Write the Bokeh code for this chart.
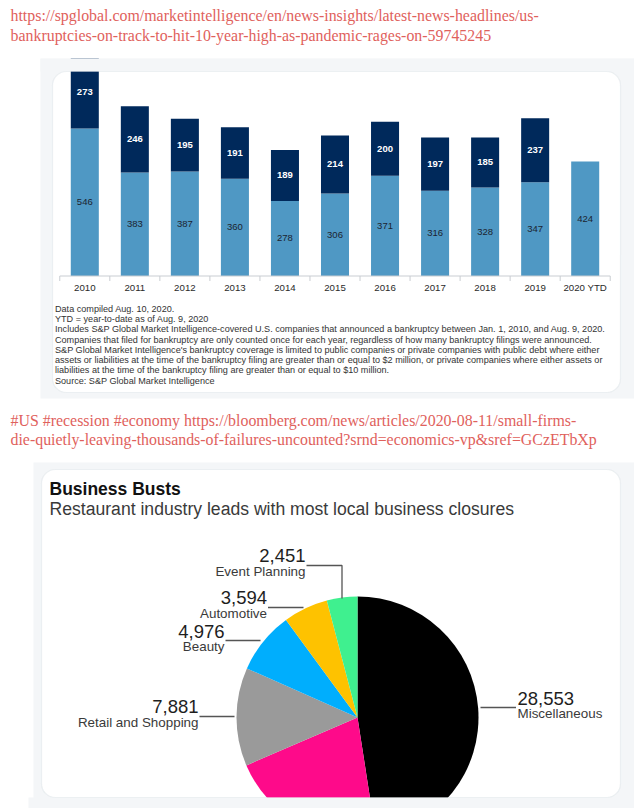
from bokeh.plotting import figure
from bokeh.models import ColumnDataSource, Range1d, BoxAnnotation
from bokeh.core.properties import value
from bokeh.embed import file_html
from bokeh.resources import INLINE
import numpy as np

# ---------------- data ----------------
years = ["2010", "2011", "2012", "2013", "2014", "2015", "2016", "2017", "2018", "2019", "2020 YTD"]
jan1_aug9 = [546, 383, 387, 360, 278, 306, 371, 316, 328, 347, 424]
aug10_dec31 = [273, 246, 195, 191, 189, 214, 200, 197, 185, 237, None]

notes = [
    "Data compiled Aug. 10, 2020.",
    "YTD = year-to-date as of Aug. 9, 2020",
    "Includes S&P Global Market Intelligence-covered U.S. companies that announced a bankruptcy between Jan. 1, 2010, and Aug. 9, 2020.",
    "Companies that filed for bankruptcy are only counted once for each year, regardless of how many bankruptcy filings were announced.",
    "S&P Global Market Intelligence's bankruptcy coverage is limited to public companies or private companies with public debt where either",
    "assets or liabilities at the time of the bankruptcy filing are greater than or equal to $2 million, or private companies where either assets or",
    "liabilities at the time of the bankruptcy filing are greater than or equal to $10 million.",
    "Source: S&P Global Market Intelligence",
]

link1 = ["https://spglobal.com/marketintelligence/en/news-insights/latest-news-headlines/us-",
         "bankruptcies-on-track-to-hit-10-year-high-as-pandemic-rages-on-59745245"]
link2 = ["#US #recession #economy https://bloomberg.com/news/articles/2020-08-11/small-firms-",
         "die-quietly-leaving-thousands-of-failures-uncounted?srnd=economics-vp&sref=GCzETbXp"]

pie_title = "Business Busts"
pie_subtitle = "Restaurant industry leads with most local business closures"
categories = ["Miscellaneous", "Restaurants", "Retail and Shopping", "Beauty", "Automotive", "Event Planning"]
closures = [28553, 12600, 7881, 4976, 3594, 2451]

# ---------------- styles / layout ----------------
W, H = 634, 808
OX, OY = 0, 0
LINK_COLOR = "#df615c"
GRAY_BG = "#f4f6f8"
CARD_LINE = "#dfe4e9"
LIGHT = "#4f98c4"
NAVY = "#00295b"
PIE_COLORS = ["#000000", "#fe0a8a", "#9a9a9a", "#00aefd", "#fec200", "#3ff08f"]
SANS = value("Liberation Sans")
SERIF = value("Liberation Serif")

BAR_X0, BAR_STEP = 84.3, 50.04     # page x of first category centre, px per category
BASE_Y, PPU = 275.5, 0.27          # page y of zero line, px per bankruptcy

p = figure(width=W, height=H, x_range=Range1d(OX, OX + W), y_range=Range1d(-(OY + H), -OY),
           x_axis_type=None, y_axis_type=None, toolbar_location=None, output_backend="svg",
           min_border=0, outline_line_color=None, background_fill_color="white",
           border_fill_color="white")

bx0 = -(BAR_X0 - OX) / BAR_STEP
by0 = -((OY + H) - BASE_Y) / PPU
p.extra_x_ranges = {"bx": Range1d(bx0, bx0 + W / BAR_STEP)}
p.extra_y_ranges = {"by": Range1d(by0, by0 + H / PPU)}


def box(l, r, t, b, fill, line=None, radius=0, level="underlay"):
    p.add_layout(BoxAnnotation(left=l, right=r, top=-t, bottom=-b, fill_color=fill, fill_alpha=1,
                               line_color=line, line_width=1.2, border_radius=radius, level=level))


# ---------------- link texts ----------------
p.text(x=[10, 10], y=[-15, -35], text=link1, text_font=SERIF, text_font_size="15.9px",
       text_color=LINK_COLOR, text_baseline="middle")
p.text(x=[10, 10], y=[-420, -439], text=link2, text_font=SERIF, text_font_size="15.9px",
       text_color=LINK_COLOR, text_baseline="middle")

# ---------------- bar chart panel ----------------
box(40, 640, 58, 398, GRAY_BG)
box(52, 620, 71, 392, "white", CARD_LINE, 14)

idx = np.arange(len(years))
light = np.array(jan1_aug9, dtype=float)
dark = np.array([np.nan if v is None else v for v in aug10_dec31], dtype=float)
src = ColumnDataSource(dict(
    x=idx, years=years, light=light, dark_top=light + np.nan_to_num(dark),
    light_mid=light / 2, dark_mid=light + np.nan_to_num(dark) / 2,
    light_txt=[str(v) for v in jan1_aug9],
    dark_txt=["" if v is None else str(v) for v in aug10_dec31],
))
p.vbar(x="x", width=0.56, bottom=0, top="light", source=src, fill_color=LIGHT,
       line_color=None, x_range_name="bx", y_range_name="by")
p.vbar(x="x", width=0.56, bottom="light", top="dark_top", source=src, fill_color=NAVY,
       line_color=None, x_range_name="bx", y_range_name="by")
p.text(x="x", y="light_mid", text="light_txt", source=src, x_range_name="bx", y_range_name="by",
       text_align="center", text_baseline="middle", text_font=SANS, text_font_size="9.5px",
       text_color="#1c2430")
p.text(x="x", y="dark_mid", text="dark_txt", source=src, x_range_name="bx", y_range_name="by",
       text_align="center", text_baseline="middle", text_font=SANS, text_font_size="9.5px",
       text_font_style="bold", text_color="white")

# category axis (drawn in the bar scale)
edges = np.arange(len(years) + 1) - 0.5
p.segment(x0=[edges[0]], x1=[edges[-1]], y0=[-BASE_Y], y1=[-BASE_Y], x_range_name="bx",
          line_color="#c9cdd2", line_width=1)
p.segment(x0=edges, x1=edges, y0=-BASE_Y, y1=-(BASE_Y + 5), x_range_name="bx",
          line_color="#c9cdd2", line_width=1)
p.text(x="x", y=-287, text="years", source=src, x_range_name="bx", text_align="center",
       text_baseline="middle", text_font=SANS, text_font_size="9.7px", text_color="#2a2a2a")

# footnotes
p.text(x=[54.5] * len(notes), y=[-(308.3 + 10.25 * i) for i in range(len(notes))], text=notes,
       text_font=SANS, text_font_size="9.1px", text_color="#333333", text_baseline="middle")

# clip bars at card top
box(28, 640, 46, 58, "white", level="annotation")
box(40, 640, 58, 71, GRAY_BG, level="annotation")
box(52, 620, 71, 392, None, CARD_LINE, 14, level="annotation")

# ---------------- pie panel ----------------
box(33, 640, 462, 812, GRAY_BG)
box(41, 620, 469, 797, "white", CARD_LINE, 14)

p.text(x=[49], y=[-488], text=[pie_title], text_font=SANS, text_font_size="17.5px",
       text_font_style="bold", text_color="#111111", text_baseline="middle")
p.text(x=[49], y=[-508.5], text=[pie_subtitle], text_font=SANS, text_font_size="17.6px",
       text_color="#3a3a3a", text_baseline="middle")

vals = np.array(closures, dtype=float)
cum = np.concatenate([[0], np.cumsum(vals)]) / vals.sum()
pie_src = ColumnDataSource(dict(
    cat=categories, val=closures, color=PIE_COLORS,
    start=np.pi / 2 - 2 * np.pi * cum[:-1], end=np.pi / 2 - 2 * np.pi * cum[1:],
))
p.wedge(x=357, y=-717, radius=121, start_angle="start", end_angle="end", direction="clock",
        fill_color="color", line_color=None, source=pie_src)

# labels: (text anchor x, value y, name y, align, leader xs, leader ys)
label_layout = {
    "Event Planning": (305, 555, 570.5, "right", [306, 341.5, 341.5], [565, 565, 598]),
    "Automotive": (266.5, 597, 612.5, "right", [267.5, 303], [607, 607]),
    "Beauty": (224, 631, 645.5, "right", [225, 260], [640, 640]),
    "Retail and Shopping": (198, 705.5, 722, "right", [199, 234], [716, 716]),
    "Miscellaneous": (517, 697.5, 713, "left", [480, 515.5], [707, 707]),
}
for cat, v in zip(categories, closures):
    if cat not in label_layout:
        continue
    ax, vy, ny, al, lx, ly = label_layout[cat]
    p.text(x=[ax], y=[-vy], text=[f"{v:,}"], text_font=SANS, text_font_size="18.5px",
           text_color="#1e1e1e", text_align=al, text_baseline="middle")
    p.text(x=[ax], y=[-ny], text=[cat], text_font=SANS, text_font_size="13.4px",
           text_color="#3a3a3a", text_align=al, text_baseline="middle")
    p.line(x=lx, y=[-t for t in ly], line_color="#555555", line_width=1.3)

box(28, 640, 797, 812, GRAY_BG, level="annotation")
box(41, 620, 469, 797, None, CARD_LINE, 14, level="annotation")

open("out.html", "w").write(file_html(p, INLINE))
